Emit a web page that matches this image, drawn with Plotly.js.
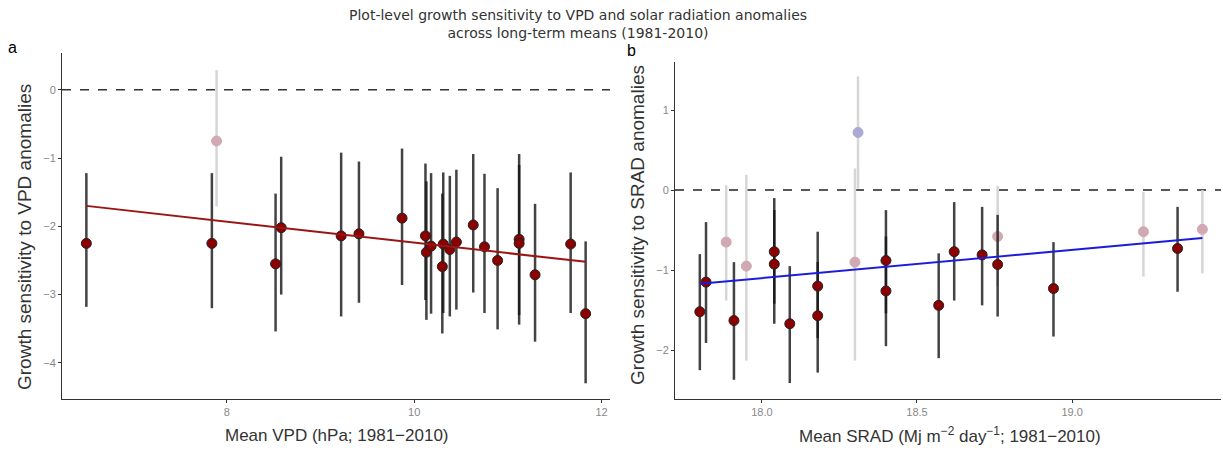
<!DOCTYPE html>
<html>
<head>
<meta charset="utf-8">
<script src="https://cdn.plot.ly/plotly-3.0.1.min.js"></script>
<style>html,body{margin:0;padding:0;background:#fff;}#chart{width:1223px;height:450px;}</style>
</head>
<body>
<div id="chart"></div>
<script>
// ---- Panel a: VPD ----
var vpdX   = [6.50, 7.84, 8.52, 8.58, 9.22, 9.41, 9.87, 10.12, 10.13, 10.18, 10.30, 10.31, 10.38, 10.45, 10.63, 10.75, 10.89, 11.12, 11.12, 11.29, 11.67, 11.83];
var vpdY   = [-2.25, -2.25, -2.55, -2.02, -2.14, -2.11, -1.88, -2.14, -2.38, -2.29, -2.59, -2.26, -2.34, -2.23, -1.98, -2.30, -2.50, -2.19, -2.25, -2.71, -2.26, -3.28];
var vpdHi  = [-1.22, -1.22, -1.52, -0.98, -0.92, -1.05, -0.86, -1.08, -1.34, -1.22, -1.52, -1.21, -1.26, -1.17, -0.94, -1.23, -1.44, -0.94, -1.10, -1.67, -1.21, -2.22];
var vpdLo  = [-3.18, -3.20, -3.54, -3.00, -3.32, -3.12, -2.86, -3.08, -3.37, -3.28, -3.57, -3.27, -3.32, -3.22, -2.97, -3.27, -3.51, -3.44, -3.30, -3.69, -3.27, -4.30];
var vpdNsX  = [7.89];
var vpdNsY  = [-0.75];
var vpdNsHi = [0.29];
var vpdNsLo = [-1.71];
var vpdFitX = [6.50, 11.83];
var vpdFitY = [-1.70, -2.52];

// ---- Panel b: SRAD ----
var sradX   = [17.80, 17.82, 17.91, 18.04, 18.04, 18.09, 18.18, 18.18, 18.40, 18.40, 18.57, 18.62, 18.71, 18.76, 18.94, 19.34];
var sradY   = [-1.52, -1.15, -1.63, -0.77, -0.925, -1.67, -1.20, -1.57, -0.88, -1.26, -1.44, -0.77, -0.81, -0.93, -1.23, -0.73];
var sradHi  = [-0.80, -0.40, -0.90, -0.10, -0.25, -0.95, -0.52, -0.90, -0.25, -0.58, -0.79, -0.15, -0.21, -0.31, -0.65, -0.21];
var sradLo  = [-2.25, -1.91, -2.37, -1.42, -1.67, -2.41, -1.85, -2.28, -1.54, -1.95, -2.10, -1.38, -1.44, -1.58, -1.83, -1.27];
var sradNsX  = [17.885, 17.95, 18.30, 18.76, 19.23, 19.42];
var sradNsY  = [-0.65, -0.95, -0.90, -0.58, -0.52, -0.49];
var sradNsHi = [0.06, 0.19, 0.27, 0.05, -0.02, 0.00];
var sradNsLo = [-1.38, -2.13, -2.13, -1.20, -1.08, -1.04];
var sradPosX  = [18.31];
var sradPosY  = [0.72];
var sradPosHi = [1.42];
var sradPosLo = [0.02];
var sradFitX = [17.80, 19.42];
var sradFitY = [-1.17, -0.60];

function errs(y, hi, lo){
  return {plus: y.map(function(v,i){return hi[i]-v;}), minus: y.map(function(v,i){return v-lo[i];})};
}
function pointTrace(x, y, hi, lo, fill, line, barColor, xa, ya){
  var e = errs(y, hi, lo);
  return {x:x, y:y, xaxis:xa, yaxis:ya, type:'scatter', mode:'markers', showlegend:false, hoverinfo:'skip',
    marker:{size:10, color:fill, line:{color:line, width:1}},
    error_y:{type:'data', symmetric:false, array:e.plus, arrayminus:e.minus, color:barColor, thickness:2.5, width:0}};
}

var traces = [
  pointTrace(vpdNsX, vpdNsY, vpdNsHi, vpdNsLo, '#d1a9b2', '#d1a9b2', '#d6d6d6', 'x', 'y'),
  pointTrace(vpdX, vpdY, vpdHi, vpdLo, '#8b0000', '#222', 'rgba(20,20,20,0.8)', 'x', 'y'),
  {x:vpdFitX, y:vpdFitY, xaxis:'x', yaxis:'y', type:'scatter', mode:'lines', showlegend:false, hoverinfo:'skip',
    line:{color:'#9b1515', width:2}},
  pointTrace(sradNsX, sradNsY, sradNsHi, sradNsLo, '#d1a9b2', '#d1a9b2', '#d6d6d6', 'x2', 'y2'),
  pointTrace(sradPosX, sradPosY, sradPosHi, sradPosLo, '#a9a9d4', '#a9a9d4', '#d6d6d6', 'x2', 'y2'),
  pointTrace(sradX, sradY, sradHi, sradLo, '#8b0000', '#222', 'rgba(20,20,20,0.8)', 'x2', 'y2'),
  {x:sradFitX, y:sradFitY, xaxis:'x2', yaxis:'y2', type:'scatter', mode:'lines', showlegend:false, hoverinfo:'skip',
    line:{color:'#1c1cdc', width:2}}
];

var W = 1223, H = 450;
function px(v){return v/W;}
function py(v){return 1 - v/H;}

var axCommon = {showgrid:false, zeroline:false, showline:true, linecolor:'#333', linewidth:1,
  ticks:'outside', ticklen:3, tickcolor:'#333', tickfont:{family:'Liberation Sans, Arial, sans-serif', size:11, color:'#888'}};

var xTitleFont = {family:'Liberation Sans, Arial, sans-serif', size:17, color:'#333'};
var yTitleFont = {family:'Liberation Sans, Arial, sans-serif', size:19, color:'#333'};

var layout = {
  width:W, height:H, margin:{l:0, r:0, t:0, b:0}, paper_bgcolor:'#fff', plot_bgcolor:'#fff',
  xaxis: Object.assign({}, axCommon, {domain:[px(62), px(610)], range:[6.24, 12.09], tickvals:[8,10,12], anchor:'y'}),
  yaxis: Object.assign({}, axCommon, {domain:[py(399), py(53)], range:[-4.53, 0.54], tickvals:[0,-1,-2,-3,-4], anchor:'x'}),
  xaxis2: Object.assign({}, axCommon, {domain:[px(675), px(1221)], range:[17.72, 19.48], tickvals:[18.0,18.5,19.0], tickformat:'.1f', anchor:'y2'}),
  yaxis2: Object.assign({}, axCommon, {domain:[py(399), py(62)], range:[-2.61, 1.60], tickvals:[1,0,-1,-2], anchor:'x2'}),
  shapes: [
    {type:'line', xref:'x domain', yref:'y', x0:0, x1:1, y0:0, y1:0, line:{color:'#333', width:1.5, dash:'dash'}, layer:'below'},
    {type:'line', xref:'x2 domain', yref:'y2', x0:0, x1:1, y0:0, y1:0, line:{color:'#222', width:1.5, dash:'dash'}, layer:'below'}
  ],
  annotations: [
    {text:'Plot-level growth sensitivity to VPD and solar radiation anomalies<br>across long-term means (1981-2010)', xref:'paper', yref:'paper', x:px(578), y:py(24), xanchor:'center', yanchor:'middle', showarrow:false, align:'center',
      font:{family:'DejaVu Sans, Verdana, sans-serif', size:14, color:'#333'}},
    {text:'a', xref:'paper', yref:'paper', x:px(12), y:py(47), xanchor:'center', yanchor:'middle', showarrow:false, font:{family:'Liberation Sans, Arial, sans-serif', size:16, color:'#000'}},
    {text:'b', xref:'paper', yref:'paper', x:px(631), y:py(50), xanchor:'center', yanchor:'middle', showarrow:false, font:{family:'Liberation Sans, Arial, sans-serif', size:16, color:'#000'}},
    {text:'Growth sensitivity to VPD anomalies', xref:'paper', yref:'paper', x:px(25), y:py(237), xanchor:'center', yanchor:'middle', textangle:-90, showarrow:false, font:yTitleFont},
    {text:'Growth sensitivity to SRAD anomalies', xref:'paper', yref:'paper', x:px(637), y:py(225), xanchor:'center', yanchor:'middle', textangle:-90, showarrow:false, font:yTitleFont},
    {text:'Mean VPD (hPa; 1981\u22122010)', xref:'paper', yref:'paper', x:px(337), y:py(435), xanchor:'center', yanchor:'middle', showarrow:false, font:xTitleFont},
    {text:'Mean SRAD (Mj m<sup>\u22122</sup> day<sup>\u22121</sup>; 1981\u22122010)', xref:'paper', yref:'paper', x:px(950), y:py(435), xanchor:'center', yanchor:'middle', showarrow:false, font:xTitleFont}
  ]
};

Plotly.newPlot('chart', traces, layout, {staticPlot:true, displayModeBar:false});
</script>
</body>
</html>
